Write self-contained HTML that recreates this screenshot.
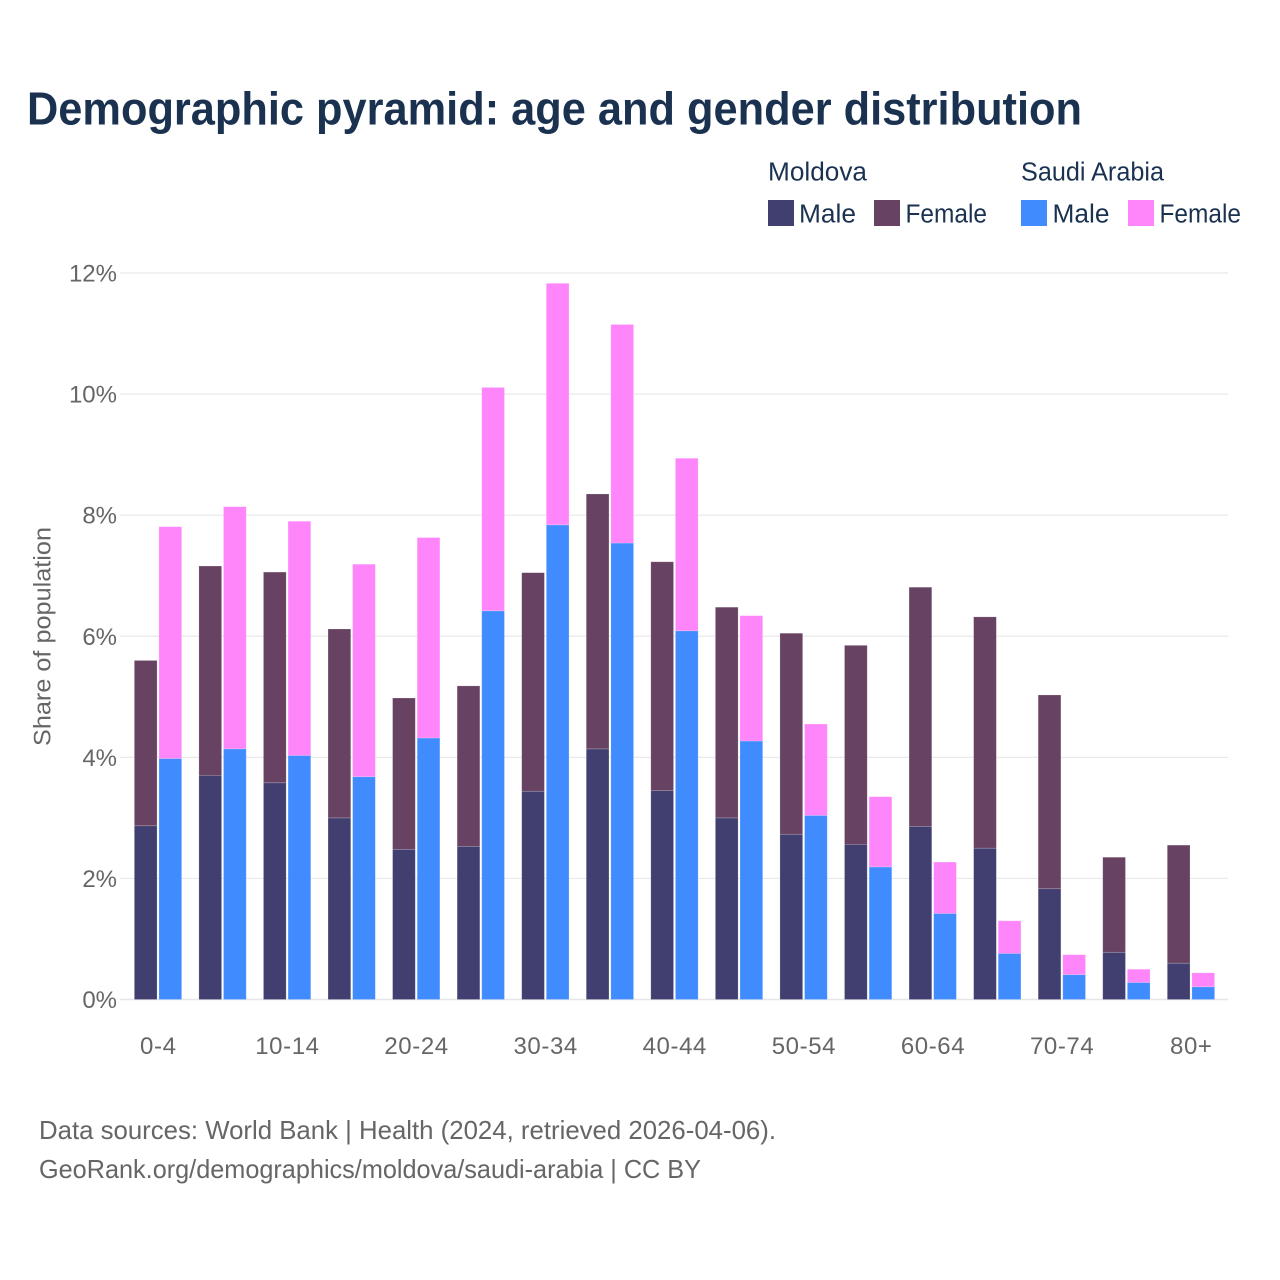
<!DOCTYPE html>
<html lang="en">
<head>
<meta charset="utf-8">
<title>Demographic pyramid: age and gender distribution</title>
<style>
html,body{margin:0;padding:0;background:#fff;}
svg{display:block;font-family:"Liberation Sans",sans-serif;}
</style>
</head>
<body>
<svg id="chart" xmlns="http://www.w3.org/2000/svg" width="1280" height="1280" viewBox="0 0 1280 1280">
  <text x="27" y="124.5" font-size="46" font-weight="700" fill="#1a3250" textLength="1055" lengthAdjust="spacingAndGlyphs">Demographic pyramid: age and gender distribution</text>

  <g font-size="25.5" fill="#1a3250">
    <text x="768" y="180.5" textLength="99" lengthAdjust="spacingAndGlyphs">Moldova</text>
    <text x="1021" y="180.5" textLength="143" lengthAdjust="spacingAndGlyphs">Saudi Arabia</text>
    <rect x="768" y="200" width="26" height="26" fill="#413f70"/>
    <text x="799" y="222.5" textLength="57" lengthAdjust="spacingAndGlyphs">Male</text>
    <rect x="874" y="200" width="26" height="26" fill="#674262"/>
    <text x="905.5" y="222.5" textLength="81.5" lengthAdjust="spacingAndGlyphs">Female</text>
    <rect x="1021" y="200" width="26" height="26" fill="#408cff"/>
    <text x="1052.5" y="222.5" textLength="57" lengthAdjust="spacingAndGlyphs">Male</text>
    <rect x="1128" y="200" width="26" height="26" fill="#ff85fb"/>
    <text x="1159.5" y="222.5" textLength="81.5" lengthAdjust="spacingAndGlyphs">Female</text>
  </g>

  <g id="grid"></g>
  <g id="yticks"></g>
  <g id="bars"></g>
  <g id="xticks"></g>

  <text transform="translate(50.5,636.5) rotate(-90)" text-anchor="middle" font-size="24" fill="#666666" textLength="219" lengthAdjust="spacingAndGlyphs">Share of population</text>

  <text x="39" y="1139" font-size="26" fill="#666666" textLength="737" lengthAdjust="spacingAndGlyphs">Data sources: World Bank | Health (2024, retrieved 2026-04-06).</text>
  <text x="39" y="1178" font-size="26" fill="#666666" textLength="662" lengthAdjust="spacingAndGlyphs">GeoRank.org/demographics/moldova/saudi-arabia | CC BY</text>
</svg>
<script>
const categories = ['0-4','5-9','10-14','15-19','20-24','25-29','30-34','35-39','40-44','45-49','50-54','55-59','60-64','65-69','70-74','75-79','80+'];
const moldovaMale = [2.87,3.70,3.58,3.00,2.48,2.53,3.44,4.14,3.45,3.00,2.73,2.56,2.86,2.50,1.83,0.78,0.60];
const moldovaFemale = [2.73,3.46,3.48,3.12,2.50,2.65,3.61,4.21,3.78,3.48,3.32,3.29,3.95,3.82,3.20,1.57,1.95];
const saudiMale = [3.98,4.14,4.03,3.68,4.32,6.42,7.84,7.54,6.09,4.27,3.04,2.19,1.42,0.76,0.41,0.28,0.21];
const saudiFemale = [3.83,4.00,3.87,3.51,3.31,3.69,3.99,3.61,2.85,2.07,1.51,1.16,0.85,0.54,0.33,0.22,0.23];
const yTicks = [0,2,4,6,8,10,12];

const NS = 'http://www.w3.org/2000/svg';
function yScale(v){ return 999.5 - v * 60.54; }
function xBand(i){ return 158 + i * 64.56; }
const barW = 22.7;
const barGap = 1.9;

const gridG = document.getElementById('grid');
const yG = document.getElementById('yticks');
yTicks.forEach(function(t){
  const line = document.createElementNS(NS,'line');
  
  
  line.setAttribute('x1', 120);
  line.setAttribute('x2', 1228);
  line.setAttribute('y1', yScale(t));
  line.setAttribute('y2', yScale(t));
  line.setAttribute('stroke', t === 0 ? '#e6e6e6' : '#e9e9e9');
  line.setAttribute('stroke-width', t === 0 ? 1.6 : 1.2);
  gridG.appendChild(line);
  const label = document.createElementNS(NS,'text');
  
  
  label.setAttribute('x', 117);
  label.setAttribute('y', yScale(t) + 8.5);
  label.setAttribute('text-anchor', 'end');
  label.setAttribute('font-size', 24);
  label.setAttribute('fill', '#666666');
  label.textContent = t + '%';
  yG.appendChild(label);
});

const barsG = document.getElementById('bars');
function drawBar(x, v0, v1, color, name){
  const r = document.createElementNS(NS,'rect');
  
  
  r.setAttribute('x', x);
  r.setAttribute('y', yScale(v1));
  r.setAttribute('width', barW);
  r.setAttribute('height', yScale(v0) - yScale(v1));
  r.setAttribute('fill', color);
  r.setAttribute('stroke', '#ffffff');
  r.setAttribute('stroke-opacity', '0.25');
  r.setAttribute('stroke-width', '0.7');
  barsG.appendChild(r);
}
categories.forEach(function(c,i){
  const left = xBand(i) - barW - barGap / 2;
  const right = xBand(i) + barGap / 2;
  drawBar(left, 0, moldovaMale[i], '#413f70', 'bar-moldova-male');
  drawBar(left, moldovaMale[i], moldovaMale[i] + moldovaFemale[i], '#674262', 'bar-moldova-female');
  drawBar(right, 0, saudiMale[i], '#408cff', 'bar-saudi-male');
  drawBar(right, saudiMale[i], saudiMale[i] + saudiFemale[i], '#ff85fb', 'bar-saudi-female');
});

const xG = document.getElementById('xticks');
categories.forEach(function(c,i){
  if (i % 2 !== 0) return;
  const label = document.createElementNS(NS,'text');
  
  
  label.setAttribute('x', xBand(i) + 0.3);
  label.setAttribute('y', 1054);
  label.setAttribute('text-anchor', 'middle');
  label.setAttribute('font-size', 24);
  label.setAttribute('letter-spacing', '0.6');
  label.setAttribute('fill', '#666666');
  label.textContent = c;
  xG.appendChild(label);
});
</script>
</body>
</html>
